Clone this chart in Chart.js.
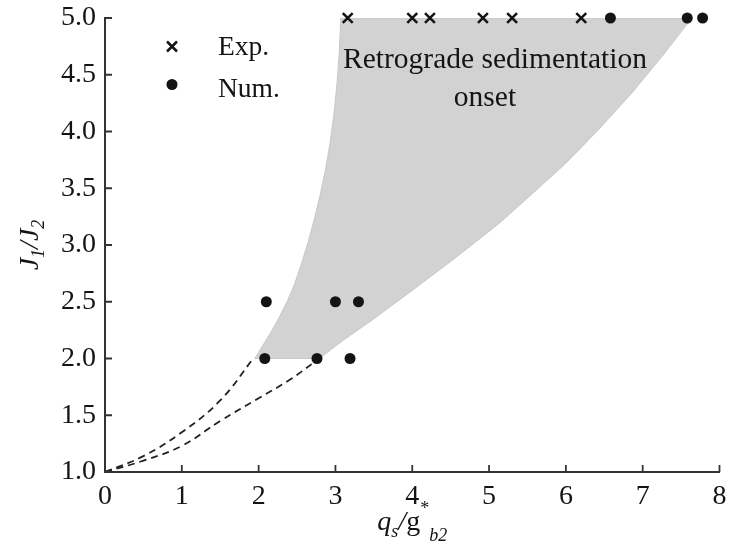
<!DOCTYPE html>
<html><head><meta charset="utf-8">
<script src="https://cdn.jsdelivr.net/npm/chart.js@4.4.0/dist/chart.umd.min.js"></script>
<style>html,body{margin:0;padding:0;background:#fff}#wrap{width:729px;height:555px}</style>
</head><body><div id="wrap"><canvas id="c" width="729" height="555"></canvas></div>
<script>
// ---- data ----
const xTickValues = [0, 1, 2, 3, 4, 5, 6, 7, 8];
const xTickLabels = ["0", "1", "2", "3", "4", "5", "6", "7", "8"];
const yTickValues = [1.0, 1.5, 2.0, 2.5, 3.0, 3.5, 4.0, 4.5, 5.0];
const yTickLabels = ["1.0", "1.5", "2.0", "2.5", "3.0", "3.5", "4.0", "4.5", "5.0"];

const expX = [3.16, 4.00, 4.23, 4.92, 5.30, 6.20];
const expY = [5.0, 5.0, 5.0, 5.0, 5.0, 5.0];

const numX = [2.08, 2.76, 3.19, 2.10, 3.00, 3.30, 6.58, 7.58, 7.78];
const numY = [2.0, 2.0, 2.0, 2.5, 2.5, 2.5, 5.0, 5.0, 5.0];

// shaded region outline (closed)
const regionX = [1.95, 2.05, 2.15, 2.25, 2.37, 2.47, 2.56, 2.65, 2.73, 2.80, 2.87, 2.93, 2.98, 3.02, 3.05, 3.07,
                 7.64, 7.25, 6.86, 6.43, 6.00, 5.56, 5.13, 4.55, 4.00, 3.48, 3.10, 2.81, 2.72, 1.95];
const regionY = [2.00, 2.11, 2.22, 2.34, 2.50, 2.66, 2.84, 3.04, 3.24, 3.44, 3.66, 3.90, 4.15, 4.42, 4.70, 5.00,
                 5.00, 4.66, 4.34, 4.02, 3.72, 3.45, 3.19, 2.88, 2.60, 2.34, 2.16, 2.01, 2.00, 2.00];

const dashUpX = [0.0, 0.5, 1.0, 1.5, 1.93];
const dashUpY = [1.0, 1.14, 1.35, 1.63, 2.0];
const dashLowX = [0.0, 0.5, 1.0, 1.5, 2.0, 2.4, 2.77];
const dashLowY = [1.0, 1.10, 1.23, 1.45, 1.65, 1.81, 1.99];

const regionLabel = ["Retrograde sedimentation", "onset"];
const legendLabels = ["Exp.", "Num."];

const zip = (xs, ys) => xs.map((x, i) => ({x: x, y: ys[i]}));
const SERIF = '"Liberation Serif", "DejaVu Serif", serif';
const INK = '#141414';

const decor = {
  id: 'decor',
  afterDatasetsDraw(chart) {
    const ctx = chart.ctx;
    ctx.save();
    // region label
    ctx.fillStyle = INK;
    ctx.font = '29.5px ' + SERIF;
    ctx.textAlign = 'center';
    ctx.textBaseline = 'alphabetic';
    ctx.fillText(regionLabel[0], 495, 68);
    ctx.fillText(regionLabel[1], 485, 106);
    // legend
    ctx.textAlign = 'left';
    ctx.font = '27.5px ' + SERIF;
    ctx.fillText(legendLabels[0], 218, 55);
    ctx.fillText(legendLabels[1], 218, 97);
    ctx.strokeStyle = INK; ctx.lineWidth = 2.5;
    ctx.beginPath();
    ctx.moveTo(167, 41.5); ctx.lineTo(177, 51.5);
    ctx.moveTo(177, 41.5); ctx.lineTo(167, 51.5);
    ctx.stroke();
    ctx.beginPath(); ctx.arc(172, 84.5, 5.5, 0, Math.PI * 2); ctx.fill();
    ctx.restore();
  },
  afterDraw(chart) {
    const ctx = chart.ctx;
    const xs = chart.scales.x, ys = chart.scales.y;
    const a = chart.chartArea;
    ctx.save();
    // inward ticks
    ctx.strokeStyle = '#333'; ctx.lineWidth = 1.8;
    ctx.beginPath();
    xTickValues.forEach(v => { const p = xs.getPixelForValue(v); ctx.moveTo(p, a.bottom); ctx.lineTo(p, a.bottom - 7); });
    yTickValues.forEach(v => { const p = ys.getPixelForValue(v); ctx.moveTo(a.left, p); ctx.lineTo(a.left + 7, p); });
    ctx.stroke();
    // x title: q_s / g*_b2
    const big = '28px ' + SERIF, bigI = 'italic 28px ' + SERIF, smI = 'italic 18px ' + SERIF, sm = '18px ' + SERIF;
    const drawParts = (list, cx, by) => {
      let w = 0;
      list.forEach(p => { ctx.font = p.f; p.w = ctx.measureText(p.t).width; w += p.w; });
      let x = cx - w / 2;
      ctx.textAlign = 'left'; ctx.textBaseline = 'alphabetic'; ctx.fillStyle = INK;
      list.forEach(p => { ctx.font = p.f; ctx.fillText(p.t, x, by + p.dy); x += p.w; });
    };
    drawParts([
      {t: 'q', f: bigI, dy: 0},
      {t: 's', f: smI, dy: 7},
      {t: '/', f: bigI, dy: 0},
      {t: 'g', f: big, dy: 0},
      {t: '*', f: sm, dy: -16},
      {t: 'b2', f: smI, dy: 11}
    ], (a.left + a.right) / 2, 530);
    // y title: J_1 / J_2
    ctx.save();
    ctx.translate(38, (a.top + a.bottom) / 2);
    ctx.rotate(-Math.PI / 2);
    drawParts([
      {t: 'J', f: bigI, dy: 0},
      {t: '1', f: smI, dy: 6},
      {t: '/', f: bigI, dy: 0},
      {t: 'J', f: bigI, dy: 0},
      {t: '2', f: smI, dy: 6}
    ], 0, 0);
    ctx.restore();
    ctx.restore();
  }
};

const noPad = s => { s.paddingTop = 0; s.paddingBottom = 0; s.paddingLeft = 0; s.paddingRight = 0; };

new Chart(document.getElementById('c'), {
  type: 'scatter',
  data: {
    datasets: [
      {
        label: 'Exp.', data: zip(expX, expY), pointStyle: 'crossRot', pointRadius: 7,
        pointBorderWidth: 2.5, borderColor: INK, backgroundColor: INK, clip: false, order: 1
      },
      {
        label: 'Num.', data: zip(numX, numY), pointStyle: 'circle', pointRadius: 5.5,
        pointBorderWidth: 0, borderColor: INK, backgroundColor: INK, clip: false, order: 1
      },
      {
        type: 'line', label: 'dashUp', data: zip(dashUpX, dashUpY), showLine: true, fill: false,
        borderColor: '#222', borderWidth: 1.8, borderDash: [7, 5], pointRadius: 0, tension: 0.4, order: 5
      },
      {
        type: 'line', label: 'dashLow', data: zip(dashLowX, dashLowY), showLine: true, fill: false,
        borderColor: '#222', borderWidth: 1.8, borderDash: [7, 5], pointRadius: 0, tension: 0.4, order: 5
      },
      {
        type: 'line', label: 'region', data: zip(regionX, regionY), showLine: true, fill: 'shape',
        borderColor: '#c8c8c8', borderWidth: 1, backgroundColor: '#d2d2d2', pointRadius: 0, tension: 0, order: 10
      }
    ]
  },
  options: {
    responsive: false, animation: false, devicePixelRatio: 1,
    layout: {padding: {left: 0, right: 9, top: 18, bottom: 0}},
    plugins: {legend: {display: false}, tooltip: {enabled: false}},
    scales: {
      x: {
        type: 'linear', min: 0, max: 8,
        afterFit: s => { s.height = 83; noPad(s); },
        afterBuildTicks: s => { s.ticks = xTickValues.map(v => ({value: v})); },
        ticks: {callback: (v) => xTickLabels[xTickValues.indexOf(v)], color: INK, font: {family: SERIF, size: 28}, padding: 8, maxRotation: 0},
        grid: {drawOnChartArea: false, drawTicks: false},
        border: {display: true, color: '#333', width: 2}
      },
      y: {
        type: 'linear', min: 1, max: 5,
        afterFit: s => { s.width = 105; noPad(s); },
        afterBuildTicks: s => { s.ticks = yTickValues.map(v => ({value: v})); },
        ticks: {callback: (v) => yTickLabels[yTickValues.indexOf(v)], color: INK, font: {family: SERIF, size: 28}, padding: 9},
        grid: {drawOnChartArea: false, drawTicks: false},
        border: {display: true, color: '#333', width: 2}
      }
    }
  },
  plugins: [decor]
});
</script></body></html>
